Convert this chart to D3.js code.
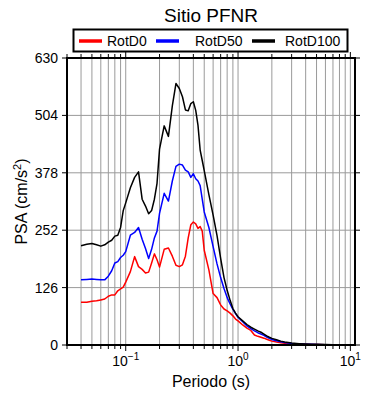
<!DOCTYPE html>
<html><head><meta charset="utf-8">
<script src="https://cdn.jsdelivr.net/npm/d3@7"></script>
<style>body{margin:0;background:#fff}svg{display:block}text{font-family:"Liberation Sans",Arial,sans-serif}</style>
</head><body>
<svg id="c" width="390" height="400"></svg>
<script>
const periods = [0.04,0.045,0.05,0.055,0.06,0.065,0.07,0.075,0.08,0.085,0.09,0.095,0.1,0.11,0.12,0.13,0.14,0.15,0.16,0.17,0.18,0.19,0.2,0.22,0.24,0.26,0.28,0.30,0.32,0.34,0.36,0.38,0.40,0.42,0.44,0.46,0.48,0.50,0.55,0.60,0.65,0.70,0.75,0.80,0.85,0.90,0.95,1.0,1.1,1.2,1.3,1.4,1.5,1.6,1.7,1.8,1.9,2.0,2.2,2.4,2.6,2.8,3.0,3.5,4.0,4.5,5,6,7,8,9,10];
const rotD0 = [94,94,96,97,99,101,107,110,110,119,123,127,138,161,194,172,166,158,160,180,200,187,171,210,213,195,175,172,176,195,235,264,270,266,256,260,250,208,165,113,104,88,79,75,70,64,57,53,44,37,32,22,19,17,15,12.5,10.5,8.5,6.5,5,3.8,3.2,2.8,2.2,1.7,1.3,1.1,0.8,0.6,0.5,0.4,0.3];
const rotD50 = [143,144,145,144,143,143,151,163,180,183,192,197,205,241,247,258,232,212,190,210,235,250,289,333,316,360,392,397,395,384,380,368,376,365,360,350,320,292,258,216,178,148,124,104,90,78,69,61,51,42,36,31,27,24,21,17.5,14.5,12,9.5,7,5.5,4.5,3.5,2.5,1.8,1.4,1.1,0.8,0.6,0.5,0.4,0.3];
const rotD100 = [218,221,223,220,217,220,226,230,239,241,258,295,312,345,368,380,320,305,288,295,320,355,430,481,458,525,574,563,545,516,514,530,534,515,482,428,405,383,330,285,240,190,148,120,98,80,70,62,53,45,39,35,31,28,24,20,17,14.5,11.5,8.5,6.8,5.5,4.2,3,2.2,1.7,1.4,1.0,0.8,0.6,0.5,0.4];
const seriesNames = ["RotD0","RotD50","RotD100"];
const seriesColors = ["#ff0000","#0000ff","#000000"];
const yTicks = [0,126,252,378,504,630];
const xMajor = [0.1,1,10];
const xMajorExp = ["\u22121","0","1"];

const svg = d3.select("#c");
const L=67,R=355,T=58,B=345;
const x = d3.scaleLog().domain([0.03,11]).range([L,R]);
const y = d3.scaleLinear().domain([0,630]).range([B,T]);

const xMinor=[];
[0.01,0.1,1,10].forEach(d=>{for(let k=1;k<=9;k++){const v=d*k; if(v>=0.03&&v<=11) xMinor.push(v);}});

const g = svg.append("g");
g.selectAll("line.gx").data(xMinor).enter().append("line")
 .attr("x1",d=>x(d)).attr("x2",d=>x(d)).attr("y1",T).attr("y2",B)
 .attr("stroke","#9a9a9a").attr("stroke-width",1);
g.selectAll("line.gy").data(yTicks).enter().append("line")
 .attr("x1",L).attr("x2",R).attr("y1",d=>y(d)).attr("y2",d=>y(d))
 .attr("stroke","#9a9a9a").attr("stroke-width",1);

svg.append("clipPath").attr("id","cp").append("rect").attr("x",L).attr("y",T).attr("width",R-L).attr("height",B-T);
const data=[rotD0,rotD50,rotD100];
const line=d3.line().x((d,i)=>x(periods[i])).y(d=>y(d));
data.forEach((s,i)=>{
  g.append("path").attr("d",line(s)).attr("fill","none").attr("stroke",seriesColors[i])
   .attr("stroke-width",1.5).attr("clip-path","url(#cp)").attr("stroke-linejoin","round");
});

const tk = svg.append("g").attr("stroke","#000").attr("stroke-width",1);
xMinor.forEach(v=>{
  const isMaj = xMajor.includes(v);
  const len = isMaj?6:4;
  tk.append("line").attr("x1",x(v)).attr("x2",x(v)).attr("y1",B).attr("y2",B+len);
  tk.append("line").attr("x1",x(v)).attr("x2",x(v)).attr("y1",T).attr("y2",T-len);
});
yTicks.forEach(v=>{
  tk.append("line").attr("x1",L-5).attr("x2",L).attr("y1",y(v)).attr("y2",y(v));
  tk.append("line").attr("x1",R).attr("x2",R+5).attr("y1",y(v)).attr("y2",y(v));
});
svg.append("rect").attr("x",L).attr("y",T).attr("width",R-L).attr("height",B-T)
 .attr("fill","none").attr("stroke","#000").attr("stroke-width",2);

svg.selectAll("text.yl").data(yTicks).enter().append("text")
 .attr("x",L-9).attr("y",d=>y(d)+5).attr("text-anchor","end").attr("font-size",14).text(d=>d);
xMajor.forEach((v,i)=>{
  const t=svg.append("text").attr("x",x(v)).attr("y",366).attr("text-anchor","middle").attr("font-size",14);
  t.append("tspan").text("10");
  t.append("tspan").attr("dy",-6).attr("font-size",10).text(xMajorExp[i]);
});
svg.append("text").attr("x",(L+R)/2).attr("y",387).attr("text-anchor","middle").attr("font-size",16).text("Periodo (s)");
const yt=svg.append("text").attr("transform",`translate(27,${(T+B)/2}) rotate(-90)`).attr("text-anchor","middle").attr("font-size",16);
yt.append("tspan").text("PSA (cm/s");
yt.append("tspan").attr("dy",-6).attr("font-size",11).text("2");
yt.append("tspan").attr("dy",6).text(")");
svg.append("text").attr("x",(L+R)/2).attr("y",22).attr("text-anchor","middle").attr("font-size",19).text("Sitio PFNR");

svg.append("rect").attr("x",73.5).attr("y",29.5).attr("width",274).attr("height",22).attr("fill","#fff").attr("stroke","#000").attr("stroke-width",2);
const legX=[79,156,252];
seriesNames.forEach((n,i)=>{
  svg.append("line").attr("x1",legX[i]).attr("x2",legX[i]+23).attr("y1",41).attr("y2",41).attr("stroke",seriesColors[i]).attr("stroke-width",3.5);
  svg.append("text").attr("x",legX[i]+(i===0?28:(i===1?39:33))).attr("y",46).attr("font-size",14).text(n);
});
</script>
</body></html>
